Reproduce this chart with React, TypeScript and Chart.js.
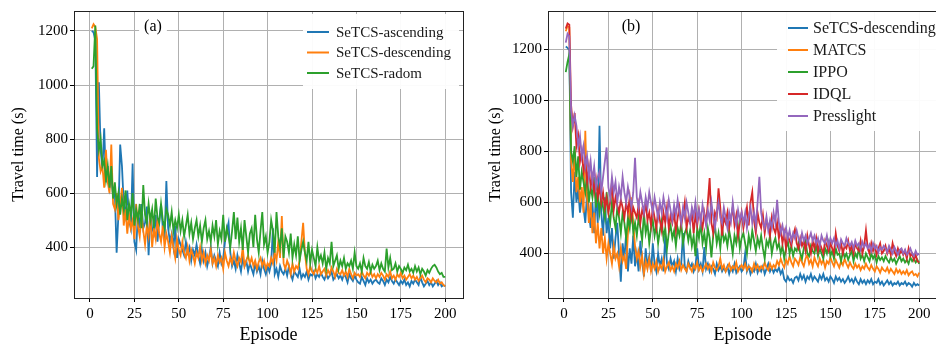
import React, { useEffect, useRef } from 'react';
import { Chart, registerables } from 'chart.js';

Chart.register(...registerables);

const FONT = "'Liberation Serif', 'Times New Roman', serif";

const X_TICKS = [0, 25, 50, 75, 100, 125, 150, 175, 200];
const Y_TICKS = [400, 600, 800, 1000, 1200];

// ---------- Panel (a) ----------
const A_ASCENDING = [
  1200, 1195, 1165, 660, 1010, 760, 690, 840, 640, 700,
  620, 660, 590, 600, 380, 520, 780, 700, 560, 520,
  610, 500, 470, 710, 420, 390, 530, 470, 560, 470,
  490, 550, 370, 520, 470, 450, 520, 420, 500, 560,
  470, 430, 645, 470, 420, 450, 400, 480, 360, 430,
  410, 390, 370, 420, 380, 400, 350, 390, 370, 410,
  370, 340, 390, 350, 380, 330, 360, 400, 340, 370,
  350, 330, 380, 340, 360, 420, 460, 490, 380, 330,
  350, 320, 370, 340, 310, 360, 330, 350, 310, 340,
  320, 300, 340, 310, 330, 300, 350, 320, 300, 330,
  310, 340, 470, 300, 320, 290, 330, 310, 300, 320,
  295, 330, 300, 280, 310, 300, 290, 320, 285, 300,
  290, 310, 280, 300, 295, 310, 285, 300, 290, 305,
  290, 280, 300, 285, 295, 310, 280, 290, 300, 285,
  295, 280, 300, 290, 270, 300, 285, 275, 295, 280,
  270, 265, 290, 275, 260, 285, 270, 280, 265, 275,
  280, 270, 265, 285, 275, 260, 280, 270, 290, 275,
  265, 280, 270, 260, 275, 265, 280, 260, 270, 255,
  275, 265, 280, 270, 260, 290, 270, 255, 265, 275,
  260, 270, 255, 265, 275, 260, 270, 255, 260, 255,
];

const A_DESCENDING = [
  1210, 1225, 1215, 1170, 730, 680, 700, 620, 760, 640,
  600, 780, 560, 540, 600, 500, 560, 620, 480, 540,
  450, 520, 470, 500, 430, 560, 480, 440, 520, 460,
  410, 480, 440, 520, 400, 470, 430, 500, 450, 420,
  480, 400, 450, 420, 380, 440, 400, 360, 430, 390,
  370, 420, 380, 360, 400, 350, 390, 370, 340, 380,
  360, 400, 350, 380, 340, 370, 350, 390, 340, 360,
  330, 370, 345, 360, 320, 380, 350, 330, 360, 340,
  380, 350, 330, 360, 345, 400, 330, 350, 370, 340,
  360, 330, 350, 320, 345, 360, 330, 350, 320, 340,
  330, 360, 340, 380, 350, 420, 360, 515, 340, 320,
  350, 330, 300, 340, 310, 330, 320, 350, 420, 490,
  380, 320, 300, 330, 310, 300, 320, 305, 330, 300,
  310, 320, 295, 315, 300, 325, 310, 290, 320, 305,
  300, 315, 295, 310, 290, 320, 300, 285, 305, 295,
  300, 290, 310, 295, 285, 305, 295, 310, 290, 300,
  285, 300, 290, 305, 295, 280, 300, 290, 310, 285,
  295, 280, 300, 290, 305, 285, 295, 280, 290, 300,
  285, 295, 280, 290, 275, 285, 295, 280, 270, 285,
  280, 270, 285, 275, 270, 280, 265, 270, 260, 255,
];

const A_RANDOM = [
  1060, 1070, 1220, 840, 760, 800, 700, 720, 650, 700,
  620, 700, 580, 640, 560, 600, 520, 580, 540, 610,
  500, 560, 520, 600, 480, 540, 500, 560, 470, 630,
  520, 490, 560, 500, 540, 470, 580, 510, 490, 560,
  500, 470, 540, 520, 480, 530, 460, 500, 470, 520,
  460, 500, 440, 480, 520, 450, 490, 430, 470, 500,
  440, 480, 420, 470, 500, 430, 460, 420, 480, 440,
  500, 410, 460, 430, 520, 420, 470, 440, 400, 460,
  530, 430, 510, 420, 470, 390, 500, 440, 380, 450,
  470, 400, 520, 430, 380, 460, 530, 410, 440, 380,
  420, 500, 460, 380, 530, 440, 400, 470, 360, 440,
  420, 380, 450, 360, 410, 370, 440, 350, 390, 420,
  380, 350, 420, 340, 390, 360, 330, 400, 350, 370,
  340, 380, 320, 360, 340, 420, 330, 350, 370, 320,
  350, 330, 360, 320, 340, 330, 350, 320, 380, 330,
  320, 340, 310, 360, 330, 320, 345, 310, 335, 320,
  330, 350, 315, 340, 320, 310, 395, 325, 360, 315,
  320, 340, 310, 330, 320, 305, 325, 315, 335, 310,
  320, 305, 330, 310, 325, 300, 320, 310, 295, 315,
  305, 320, 330, 335, 325, 310, 300, 305, 290, 290,
];

// ---------- Panel (b) ----------
const B_SETCS_DESC = [
  1210, 1205, 1195, 640, 540, 720, 600, 650, 560, 620,
  580, 520, 640, 560, 500, 600, 480, 640, 520, 900,
  560, 470, 620, 480, 540, 420, 500, 380, 460, 520,
  400, 290, 440, 380, 480, 330, 420, 360, 470, 350,
  400, 330, 450, 370, 310, 420, 350, 390, 330, 440,
  360, 330, 400, 350, 380, 330, 470, 360, 340, 380,
  350, 370, 330, 380, 340, 360, 480, 350, 330, 370,
  345, 360, 330, 350, 420, 340, 360, 330, 425, 340,
  360, 330, 350, 340, 320, 360, 335, 350, 330, 345,
  330, 350, 320, 345, 330, 360, 325, 340, 350, 330,
  340, 400, 330, 350, 320, 340, 330, 360, 325, 345,
  330, 350, 320, 340, 360, 330, 345, 325, 340, 330,
  345, 320, 335, 300, 290, 310, 295, 300, 285, 305,
  310, 295, 320, 300, 315, 290, 310, 300, 320, 295,
  310, 300, 290, 315, 300, 320, 295, 305, 290, 310,
  300, 285, 310, 295, 305, 290, 300, 285, 295, 310,
  290, 300, 285, 305, 290, 280, 300, 285, 295, 280,
  295, 285, 300, 280, 290, 285, 300, 280, 290, 275,
  285, 295, 280, 290, 275, 285, 280, 290, 275, 285,
  280, 290, 275, 285, 280, 270, 285, 275, 280, 275,
];

const B_MATCS = [
  1270, 1290, 1285, 760, 680, 800, 640, 700, 600, 660,
  560, 880, 620, 520, 600, 480, 560, 440, 520, 420,
  500, 400, 460, 380, 440, 400, 360, 430, 380, 400,
  350, 420, 370, 390, 340, 480, 560, 620, 520, 430,
  380, 410, 350, 390, 320, 370, 340, 380, 330, 360,
  340, 370, 330, 355, 340, 375, 330, 350, 365, 335,
  350, 330, 360, 345, 370, 335, 355, 340, 330, 360,
  345, 330, 355, 340, 365, 335, 350, 330, 345, 360,
  340, 355, 330, 365, 345, 335, 350, 380, 340, 355,
  330, 345, 360, 335, 350, 340, 365, 330, 345, 355,
  340, 360, 335, 350, 345, 330, 360, 340, 355, 335,
  350, 340, 365, 345, 335, 360, 340, 355, 345, 370,
  355, 380, 360, 345, 375, 360, 390, 365, 350, 380,
  370, 355, 385, 365, 350, 380, 395, 360, 375, 350,
  385, 365, 350, 380, 360, 375, 345, 370, 360, 385,
  365, 350, 375, 360, 345, 370, 355, 380, 360, 345,
  365, 350, 340, 360, 345, 355, 335, 350, 340, 360,
  345, 335, 355, 340, 330, 350, 340, 325, 345, 335,
  330, 345, 325, 340, 330, 320, 340, 325, 335, 320,
  330, 320, 335, 315, 325, 330, 315, 320, 310, 325,
];

const B_IPPO = [
  1110, 1150, 1180, 800, 760, 820, 700, 780, 650, 720,
  680, 640, 720, 600, 660, 620, 700, 580, 640, 560,
  620, 580, 540, 640, 560, 520, 600, 540, 500, 580,
  540, 480, 560, 520, 460, 540, 500, 580, 480, 520,
  470, 540, 500, 450, 560, 480, 520, 440, 500, 530,
  470, 510, 440, 490, 530, 460, 500, 420, 480, 510,
  460, 490, 430, 500, 470, 520, 440, 480, 500, 450,
  490, 430, 470, 390, 500, 460, 520, 440, 480, 420,
  500, 460, 385, 470, 510, 440, 480, 420, 500, 450,
  470, 430, 490, 450, 400, 470, 440, 500, 420, 460,
  480, 440, 400, 470, 430, 490, 450, 410, 460, 430,
  470, 420, 380, 450, 430, 470, 400, 440, 460, 420,
  440, 400, 430, 380, 420, 450, 400, 430, 390, 420,
  410, 440, 400, 380, 420, 450, 400, 390, 430, 410,
  400, 430, 390, 420, 400, 380, 420, 400, 440, 390,
  410, 380, 420, 395, 400, 370, 410, 385, 400, 375,
  395, 410, 370, 400, 385, 420, 380, 395, 370, 400,
  385, 370, 400, 380, 395, 365, 390, 375, 385, 370,
  390, 375, 365, 385, 370, 380, 360, 375, 390, 370,
  380, 365, 375, 360, 385, 370, 380, 365, 375, 360,
];

const B_IDQL = [
  1280, 1300, 1295, 980, 900, 950, 820, 860, 760, 800,
  720, 760, 680, 740, 660, 700, 640, 690, 620, 660,
  600, 640, 580, 620, 560, 600, 680, 570, 620, 590,
  560, 610, 580, 540, 600, 560, 620, 540, 580, 560,
  540, 590, 520, 570, 550, 600, 530, 560, 510, 580,
  540, 500, 570, 530, 490, 560, 520, 580, 500, 550,
  520, 560, 490, 540, 580, 510, 550, 600, 500, 540,
  520, 560, 480, 550, 510, 570, 530, 500, 560, 520,
  600, 695, 520, 480, 560, 540, 655, 580, 470, 540,
  520, 560, 500, 540, 580, 510, 550, 470, 520, 560,
  500, 540, 580, 510, 600, 640, 530, 480, 560, 520,
  500, 550, 480, 530, 510, 470, 540, 500, 480, 520,
  460, 500, 440, 480, 420, 470, 450, 430, 470, 495,
  440, 420, 460, 430, 450, 410, 470, 430, 400, 450,
  420, 460, 410, 440, 420, 400, 450, 430, 410, 440,
  420, 400, 478, 430, 410, 440, 400, 430, 420, 450,
  410, 430, 400, 440, 420, 410, 450, 400, 430, 490,
  420, 400, 440, 410, 430, 395, 420, 440, 400, 410,
  430, 400, 420, 395, 440, 410, 390, 420, 400, 415,
  395, 410, 380, 420, 390, 400, 375, 395, 370, 365,
];

const B_PRESSLIGHT = [
  1225, 1260, 1250, 960, 900, 940, 900, 820, 860, 780,
  820, 740, 780, 700, 760, 680, 740, 660, 700, 720,
  640, 700, 760, 815, 660, 620, 700, 640, 680, 600,
  660, 620, 700, 640, 600, 660, 620, 580, 640, 775,
  620, 580, 640, 600, 560, 620, 580, 640, 600, 560,
  620, 580, 540, 600, 560, 620, 580, 540, 610, 570,
  530, 590, 550, 610, 560, 520, 580, 540, 600, 560,
  520, 580, 545, 600, 530, 570, 520, 590, 550, 510,
  570, 530, 600, 545, 500, 560, 600, 540, 520, 580,
  540, 500, 560, 525, 600, 540, 510, 570, 530, 560,
  520, 560, 500, 545, 580, 520, 560, 510, 600, 700,
  560, 520, 500, 545, 490, 530, 500, 560, 520, 610,
  520, 480, 510, 470, 500, 460, 490, 450, 480, 460,
  490, 460, 440, 480, 450, 470, 440, 460, 480, 450,
  470, 440, 460, 430, 470, 450, 440, 470, 430, 460,
  440, 460, 430, 450, 420, 455, 440, 430, 460, 440,
  430, 445, 420, 450, 430, 440, 415, 445, 425, 440,
  420, 435, 410, 440, 420, 430, 405, 425, 415, 430,
  420, 405, 430, 415, 400, 425, 410, 395, 415, 420,
  400, 415, 395, 405, 420, 400, 390, 410, 395, 400,
];

const A_LABELS = ['SeTCS-ascending', 'SeTCS-descending', 'SeTCS-radom'];
const B_LABELS = ['SeTCS-descending', 'MATCS', 'IPPO', 'IDQL', 'Presslight'];
const COLORS = ['#1f77b4', '#ff7f0e', '#2ca02c', '#d62728', '#9467bd'];

type LegendCfg = {
  x: number; y: number; w: number; h: number;
  row0: number; rowGap: number; sx0: number; sx1: number; tx: number; size: number;
};
type PanelCfg = {
  series: number[][];
  labels: string[];
  yMin: number; yMax: number;
  yAxisWidth: number;
  yTitlePad: number;
  padRight: number;
  tag: string; tagX: number;
  legend: LegendCfg;
};

function overlayPlugin(cfg: PanelCfg) {
  return {
    id: 'overlay',
    afterDraw(chart: any) {
      const { ctx, chartArea: a } = chart;
      ctx.save();
      // panel tag with white box
      ctx.font = `16px ${FONT}`;
      const tw = ctx.measureText(cfg.tag).width;
      ctx.fillStyle = '#fff';
      ctx.fillRect(cfg.tagX - tw / 2 - 5, 17, tw + 10, 21);
      ctx.fillStyle = '#000';
      ctx.textAlign = 'center';
      ctx.textBaseline = 'middle';
      ctx.fillText(cfg.tag, cfg.tagX, 27);
      // legend
      const L = cfg.legend;
      ctx.fillStyle = 'rgba(255,255,255,0.95)';
      ctx.fillRect(L.x, L.y, L.w, L.h);
      ctx.font = `${L.size}px ${FONT}`;
      ctx.textAlign = 'left';
      cfg.labels.forEach((lab, i) => {
        const yy = L.row0 + i * L.rowGap;
        ctx.strokeStyle = COLORS[i];
        ctx.lineWidth = 2;
        ctx.beginPath();
        ctx.moveTo(L.sx0, yy);
        ctx.lineTo(L.sx1, yy);
        ctx.stroke();
        ctx.fillStyle = '#1a1a1a';
        ctx.fillText(lab, L.tx, yy + 1);
      });
      // frame
      ctx.strokeStyle = '#222';
      ctx.lineWidth = 1;
      ctx.strokeRect(Math.round(a.left) + 0.5, Math.round(a.top) + 0.5,
        Math.round(a.right - a.left), Math.round(a.bottom - a.top));
      ctx.restore();
    },
  };
}

function buildChart(canvas: HTMLCanvasElement, cfg: PanelCfg) {
  const n = cfg.series.length;
  const datasets = cfg.series.map((vals, i) => ({
    label: cfg.labels[i],
    data: vals.map((v, k) => ({ x: k + 1, y: v })),
    borderColor: COLORS[i],
    backgroundColor: COLORS[i],
    borderWidth: 1.8,
    pointRadius: 0,
    tension: 0,
    fill: false,
    order: n - i,
  }));
  const tickFont = { family: FONT, size: 15 };
  return new Chart(canvas, {
    type: 'line',
    data: { datasets },
    options: {
      animation: false,
      responsive: false,
      maintainAspectRatio: false,
      layout: { padding: { left: 0, right: cfg.padRight, top: 10, bottom: 0 } },
      plugins: { legend: { display: false }, tooltip: { enabled: false } },
      scales: {
        x: {
          type: 'linear',
          min: -9,
          max: 210,
          afterBuildTicks: (s: any) => { s.ticks = X_TICKS.map((v) => ({ value: v })); },
          afterFit: (s: any) => { s.height = 48; },
          ticks: { font: tickFont, color: '#000', padding: 3, maxRotation: 0, autoSkip: false, callback: (v: any) => String(v) },
          grid: { color: '#b0b0b0', lineWidth: 1, drawTicks: true, tickLength: 4, tickColor: '#000', tickWidth: 1 },
          border: { display: true, color: '#222', width: 1 },
          title: { display: true, text: 'Episode', font: { family: FONT, size: 18 }, color: '#000', padding: 0 },
        },
        y: {
          type: 'linear',
          min: cfg.yMin,
          max: cfg.yMax,
          afterBuildTicks: (s: any) => { s.ticks = Y_TICKS.map((v) => ({ value: v })); },
          afterFit: (s: any) => { s.width = cfg.yAxisWidth; },
          ticks: { font: tickFont, color: '#000', padding: 2, callback: (v: any) => String(v) },
          grid: { color: '#b0b0b0', lineWidth: 1, drawTicks: true, tickLength: 4, tickColor: '#000', tickWidth: 1 },
          border: { display: true, color: '#222', width: 1 },
          title: { display: true, text: 'Travel time (s)', font: { family: FONT, size: 16 }, color: '#000', padding: { top: cfg.yTitlePad, bottom: 0 } },
        },
      },
    } as any,
    plugins: [overlayPlugin(cfg)],
  });
}

const PANEL_A: PanelCfg = {
  series: [A_ASCENDING, A_DESCENDING, A_RANDOM],
  labels: A_LABELS,
  yMin: 212, yMax: 1274,
  yAxisWidth: 74,
  yTitlePad: 9,
  padRight: 7,
  tag: '(a)', tagX: 153,
  legend: { x: 303, y: 14, w: 156, h: 75, row0: 32, rowGap: 20.5, sx0: 307, sx1: 329, tx: 336, size: 15 },
};

const PANEL_B: PanelCfg = {
  series: [B_SETCS_DESC, B_MATCS, B_IPPO, B_IDQL, B_PRESSLIGHT],
  labels: B_LABELS,
  yMin: 226, yMax: 1349,
  yAxisWidth: 78,
  yTitlePad: 16,
  padRight: 3,
  tag: '(b)', tagX: 161,
  legend: { x: 307, y: 12, w: 200, h: 119, row0: 28, rowGap: 22, sx0: 318, sx1: 338, tx: 343, size: 16 },
};

export default function App() {
  const leftRef = useRef<HTMLCanvasElement | null>(null);
  const rightRef = useRef<HTMLCanvasElement | null>(null);
  useEffect(() => {
    const c1 = buildChart(leftRef.current!, PANEL_A);
    const c2 = buildChart(rightRef.current!, PANEL_B);
    return () => { c1.destroy(); c2.destroy(); };
  }, []);
  return (
    <div style={{ position: 'fixed', left: 0, top: 0, width: 936, height: 346, overflow: 'hidden', background: '#fff' }}>
      <canvas ref={leftRef} width={470} height={346} style={{ position: 'absolute', left: 0, top: 0, width: 470, height: 346 }} />
      <canvas ref={rightRef} width={470} height={346} style={{ position: 'absolute', left: 470, top: 0, width: 470, height: 346 }} />
    </div>
  );
}
